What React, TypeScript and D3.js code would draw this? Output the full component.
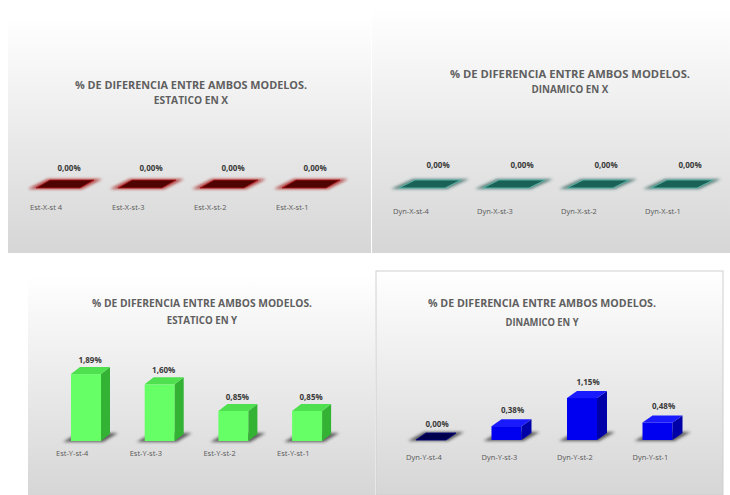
import React from "react";
import * as d3 from "d3";

// ---------- data ----------
const estXCats = ["Est-X-st 4", "Est-X-st-3", "Est-X-st-2", "Est-X-st-1"];
const estXVals = [0, 0, 0, 0];
const dynXCats = ["Dyn-X-st-4", "Dyn-X-st-3", "Dyn-X-st-2", "Dyn-X-st-1"];
const dynXVals = [0, 0, 0, 0];
const estYCats = ["Est-Y-st-4", "Est-Y-st-3", "Est-Y-st-2", "Est-Y-st-1"];
const estYVals = [1.89, 1.6, 0.85, 0.85];
const dynYCats = ["Dyn-Y-st-4", "Dyn-Y-st-3", "Dyn-Y-st-2", "Dyn-Y-st-1"];
const dynYVals = [0, 0.38, 1.15, 0.48];
const titleLine1 = "% DE DIFERENCIA ENTRE AMBOS MODELOS.";
const subtitles = ["ESTATICO EN X", "DINAMICO EN X", "ESTATICO EN Y", "DINAMICO EN Y"];

const fmt = (v: number) => v.toFixed(2).replace(".", ",") + "%";

type Panel = {
  id: string;
  cats: string[];
  vals: number[];
  sub: string;
  rect: [number, number, number, number];
  border?: boolean;
  titleX: number;
  titleY: [number, number];
  titleW: number;
  x0: number;
  step: number;
  w: number;
  dx: number;
  dy: number;
  base: number;
  pxPerUnit: number;
  labelDx: number;
  labelDy: number;
  catDx: number;
  catY: number;
  front: string;
  side: string;
  top: string;
  flat: string;
  flatEdge: string;
  shadow: string;
};

const FONT = "'Open Sans', 'Liberation Sans', sans-serif";

const panels: Panel[] = [
  {
    id: "p1", cats: estXCats, vals: estXVals, sub: subtitles[0],
    rect: [8, 18, 363, 235], titleX: 191, titleY: [89, 104], titleW: 232,
    x0: 36, step: 82, w: 44, dx: 14, dy: 8, base: 188, pxPerUnit: 35,
    labelDx: 33, labelDy: -17, catDx: -6, catY: 210,
    front: "#5a0505", side: "#400000", top: "#5a0505", flat: "#500303", flatEdge: "#b01515", shadow: "#a01010",
  },
  {
    id: "p2", cats: dynXCats, vals: dynXVals, sub: subtitles[1],
    rect: [372, 9, 358, 244], titleX: 570, titleY: [78, 93], titleW: 240,
    x0: 399, step: 84, w: 46, dx: 16, dy: 8, base: 188, pxPerUnit: 35,
    labelDx: 39, labelDy: -20, catDx: -6, catY: 214,
    front: "#1d6b60", side: "#145048", top: "#1d6b60", flat: "#1a6258", flatEdge: "#5ec2b2", shadow: "#2a5f58",
  },
  {
    id: "p3", cats: estYCats, vals: estYVals, sub: subtitles[2],
    rect: [28, 275, 347, 220], titleX: 202, titleY: [307, 324], titleW: 220,
    x0: 71, step: 73.7, w: 30, dx: 9, dy: 7, base: 441, pxPerUnit: 35.4,
    labelDx: 19, labelDy: -11, catDx: -15, catY: 456,
    front: "#66ff66", side: "#33b233", top: "#4fe04f", flat: "#33b233", flatEdge: "#66ff66", shadow: "#333333",
  },
  {
    id: "p4", cats: dynYCats, vals: dynYVals, sub: subtitles[3],
    rect: [376, 271, 347, 224], border: true, titleX: 542, titleY: [307, 326], titleW: 228,
    x0: 416, step: 75.5, w: 30, dx: 10, dy: 7, base: 440, pxPerUnit: 36.5,
    labelDx: 21, labelDy: -13, catDx: -10, catY: 460,
    front: "#0000f0", side: "#0000a8", top: "#1a1aff", flat: "#00004d", flatEdge: "#000080", shadow: "#333333",
  },
];

function PanelChart({ p }: { p: Panel }) {
  const [rx, ry, rw, rh] = p.rect;
  const n = p.cats.length;
  const x = d3
    .scaleBand<string>()
    .domain(p.cats)
    .range([p.x0, p.x0 + (n - 1) * p.step + p.w])
    .paddingInner(1 - p.w / p.step)
    .paddingOuter(0);
  const maxV = d3.max(p.vals) || 1;
  const y = d3.scaleLinear().domain([0, maxV]).range([p.base, p.base - maxV * p.pxPerUnit]);
  const poly = (pts: [number, number][]) => d3.line()(pts) + "Z";
  const gradId = `bg-${p.id}`;
  const blurId = `blur-${p.id}`;

  return (
    <g>
      <defs>
        <linearGradient id={gradId} x1="0" y1="0" x2="0" y2="1">
          <stop offset="0" stopColor="#ffffff" />
          <stop offset="0.45" stopColor="#ececec" />
          <stop offset="1" stopColor="#d6d6d6" />
        </linearGradient>
        <filter id={blurId} x="-30%" y="-100%" width="160%" height="300%">
          <feGaussianBlur stdDeviation="1.5" />
        </filter>
      </defs>
      <rect x={rx} y={ry} width={rw} height={rh} fill={`url(#${gradId})`}
        stroke={p.border ? "#cfcfcf" : "none"} strokeWidth={1} />
      <text x={p.titleX} y={p.titleY[0]} textAnchor="middle" fontFamily={FONT} fontWeight={700}
        fontSize={10} fill="#5f5f5f" textLength={p.titleW} lengthAdjust="spacingAndGlyphs">
        {titleLine1}
      </text>
      <text x={p.titleX} y={p.titleY[1]} textAnchor="middle" fontFamily={FONT} fontWeight={700}
        fontSize={10} fill="#5f5f5f" textLength={p.titleW * 0.32} lengthAdjust="spacingAndGlyphs">
        {p.sub}
      </text>
      {p.cats.map((c, i) => {
        const v = p.vals[i];
        const bx = x(c) as number;
        const w = x.bandwidth();
        const top = y(v);
        const base = p.base;
        const { dx, dy } = p;
        const shadowPts: [number, number][] = [
          [bx - 8, base + 1],
          [bx + w + 2, base + 1],
          [bx + w + dx + 8, base - dy - 1],
          [bx + dx - 2, base - dy - 1],
        ];
        const topPts: [number, number][] = [
          [bx, top],
          [bx + w, top],
          [bx + w + dx, top - dy],
          [bx + dx, top - dy],
        ];
        const sidePts: [number, number][] = [
          [bx + w, top],
          [bx + w + dx, top - dy],
          [bx + w + dx, base - dy],
          [bx + w, base],
        ];
        const isFlat = v === 0;
        return (
          <g key={c}>
            <path d={poly(shadowPts)} fill={p.shadow} opacity={0.75} filter={`url(#${blurId})`} />
            {isFlat ? (
              <path d={poly(topPts)} fill={p.flat} stroke={p.flatEdge} strokeWidth={0.8} />
            ) : (
              <>
                <rect x={bx} y={top} width={w} height={base - top} fill={p.front} />
                <path d={poly(sidePts)} fill={p.side} />
                <path d={poly(topPts)} fill={p.top} />
              </>
            )}
            <text x={bx + p.labelDx} y={top + p.labelDy} textAnchor="middle" fontFamily={FONT}
              fontWeight={700} fontSize={8} fill="#3a3a3a">
              {fmt(v)}
            </text>
            <text x={bx + p.catDx} y={p.catY} textAnchor="start" fontFamily={FONT}
              fontSize={7.5} fill="#595959">
              {c}
            </text>
          </g>
        );
      })}
    </g>
  );
}

export default function App() {
  return (
    <svg width={730} height={495} viewBox="0 0 730 495"
      style={{ position: "absolute", left: 0, top: 0, background: "#ffffff" }}>
      <rect x={0} y={0} width={730} height={495} fill="#ffffff" />
      {panels.map((p) => (
        <PanelChart key={p.id} p={p} />
      ))}
    </svg>
  );
}
